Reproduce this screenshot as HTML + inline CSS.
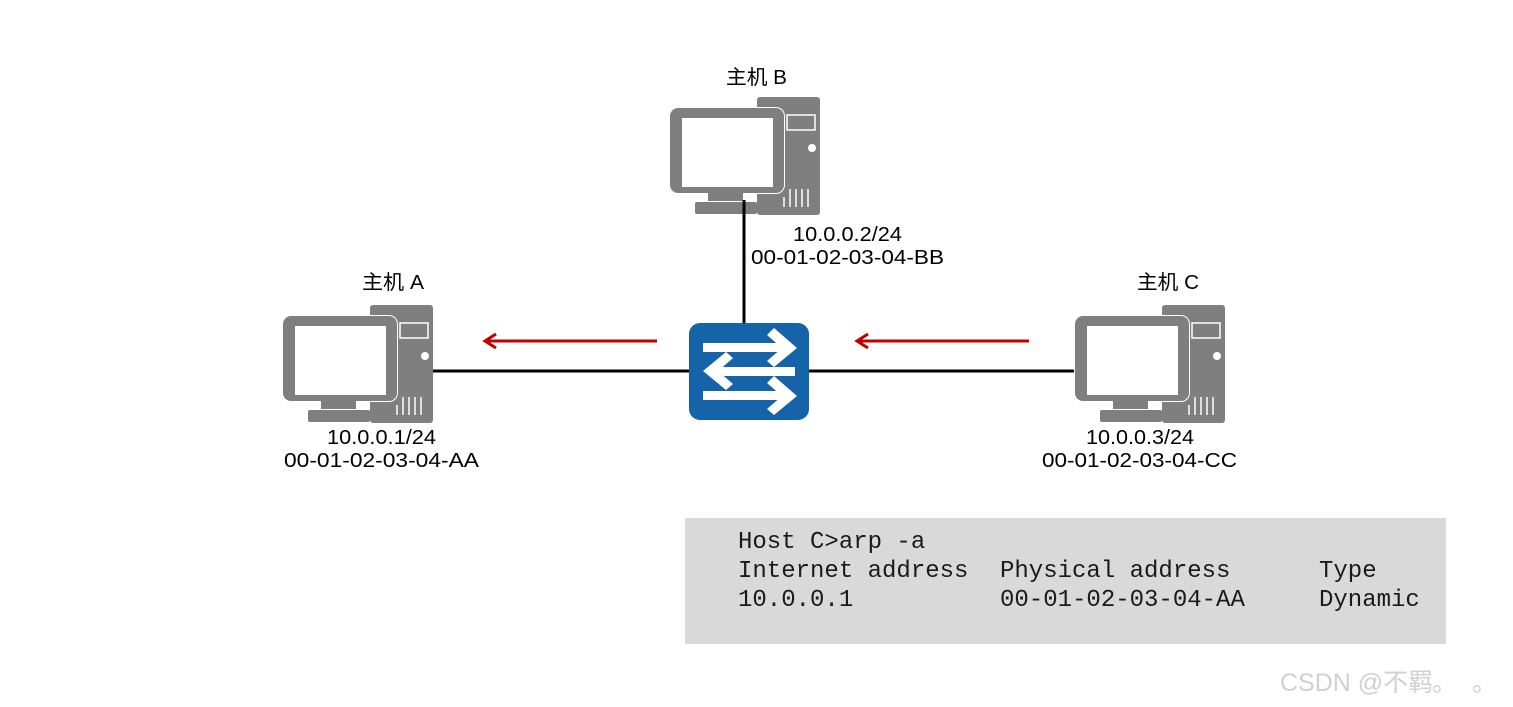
<!DOCTYPE html>
<html><head><meta charset="utf-8"><style>
html,body{margin:0;padding:0;background:#fff;}
svg{display:block}
</style></head><body>
<svg width="1513" height="707" viewBox="0 0 1513 707" xmlns="http://www.w3.org/2000/svg">
<defs>
<g id="pc">
  <rect x="87" y="0" width="63" height="118" rx="3" fill="#7f7f7f"/>
  <rect x="117" y="18" width="28" height="15" fill="#7f7f7f" stroke="#fff" stroke-width="1.5"/>
  <circle cx="142" cy="51" r="4" fill="#fff"/>
  <g stroke="#fff" stroke-width="1.5"><line x1="120" y1="92" x2="120" y2="110"/><line x1="126" y1="92" x2="126" y2="110"/><line x1="132" y1="92" x2="132" y2="110"/><line x1="138" y1="92" x2="138" y2="110"/><line x1="114" y1="100" x2="114" y2="110"/></g>
  <rect x="-1" y="10" width="116" height="87" rx="9" fill="#fff"/>
  <rect x="0" y="11" width="114" height="85" rx="8" fill="#7f7f7f"/>
  <rect x="12" y="21" width="91" height="69" fill="#fff"/>
  <rect x="38" y="96" width="35" height="8" fill="#7f7f7f"/>
  <rect x="25" y="105" width="62" height="12" rx="2" fill="#7f7f7f"/>
</g>
</defs>
<line x1="432" y1="371" x2="1076" y2="371" stroke="#000" stroke-width="3"/>
<line x1="744" y1="210" x2="744" y2="324" stroke="#000" stroke-width="3"/>
<use href="#pc" x="670" y="97"/>
<use href="#pc" x="283" y="305"/>
<use href="#pc" x="1075" y="305"/>
<line x1="744" y1="200" x2="744" y2="214" stroke="#000" stroke-width="3"/>
<rect x="689" y="323" width="120" height="97" rx="11" fill="#1563a8"/>
<g fill="#fff">
  <rect x="703" y="343" width="83" height="9"/>
  <polygon points="774,328 797,348 774,367 767,361 782,348 767,335"/>
  <rect x="714" y="367" width="81" height="9"/>
  <polygon points="726,352 703,371 726,390 733,384 718,371 733,358"/>
  <rect x="703" y="391" width="83" height="9"/>
  <polygon points="774,376 797,396 774,415 767,409 782,396 767,383"/>
</g>
<g stroke="#c00000" stroke-width="3" fill="none">
  <line x1="657" y1="341" x2="486" y2="341"/>
  <polyline points="496,334 485,341 496,348" fill="none"/>
  <line x1="1029" y1="341" x2="858" y2="341"/>
  <polyline points="868,334 857,341 868,348" fill="none"/>
</g>
<g font-family="'Liberation Sans','Noto Sans CJK SC',sans-serif" font-size="20" fill="#000" lengthAdjust="spacingAndGlyphs">
  <text x="726" y="84" textLength="61" lengthAdjust="spacingAndGlyphs">主机 B</text>
  <text x="793" y="241" textLength="109" lengthAdjust="spacingAndGlyphs">10.0.0.2/24</text>
  <text x="751" y="264" textLength="193" lengthAdjust="spacingAndGlyphs">00-01-02-03-04-BB</text>
  <text x="362" y="289" textLength="62" lengthAdjust="spacingAndGlyphs">主机 A</text>
  <text x="327" y="444" textLength="109" lengthAdjust="spacingAndGlyphs">10.0.0.1/24</text>
  <text x="284" y="467" textLength="195" lengthAdjust="spacingAndGlyphs">00-01-02-03-04-AA</text>
  <text x="1137" y="289" textLength="62" lengthAdjust="spacingAndGlyphs">主机 C</text>
  <text x="1086" y="444" textLength="108" lengthAdjust="spacingAndGlyphs">10.0.0.3/24</text>
  <text x="1042" y="467" textLength="195" lengthAdjust="spacingAndGlyphs">00-01-02-03-04-CC</text>
</g>
<rect x="685" y="518" width="761" height="126" fill="#d9d9d9"/>
<g font-family="'Liberation Mono',monospace" font-size="24" fill="#1a1a1a" style="white-space:pre">
  <text x="738" y="548">Host C&gt;arp -a</text>
  <text x="738" y="577">Internet address</text>
  <text x="1000" y="577">Physical address</text>
  <text x="1319" y="577">Type</text>
  <text x="738" y="606">10.0.0.1</text>
  <text x="1000" y="606">00-01-02-03-04-AA</text>
  <text x="1319" y="606">Dynamic</text>
</g>
<text x="1280" y="691" font-family="'Liberation Sans','Noto Sans CJK SC',sans-serif" font-size="25" fill="#d0d0d0">CSDN @不羁</text>
<text x="1432" y="691" font-family="'Noto Sans CJK SC',sans-serif" font-size="25" fill="#d0d0d0">。</text>
<text x="1472" y="691" font-family="'Noto Sans CJK SC',sans-serif" font-size="25" fill="#d0d0d0">。</text>
</svg>
</body></html>
